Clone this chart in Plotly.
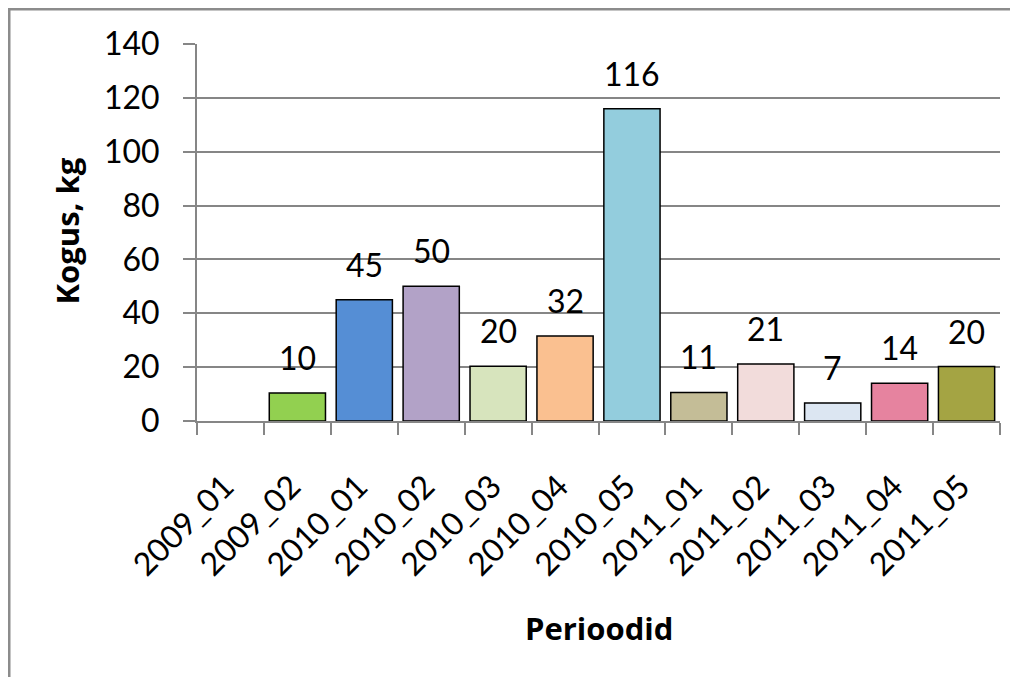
import plotly.graph_objects as go

# andmed (loetud pildilt)
periods = ["2009_01", "2009_02", "2010_01", "2010_02", "2010_03", "2010_04",
           "2010_05", "2011_01", "2011_02", "2011_03", "2011_04", "2011_05"]
amounts = [None, 10.4, 45.0, 50.0, 20.3, 31.6, 116.0, 10.6, 21.2, 6.7, 14.0, 20.2]
labels = ["", "10", "45", "50", "20", "32", "116", "11", "21", "7", "14", "20"]
colors = ["#FFFFFF", "#92D050", "#558ED5", "#B2A2C7", "#D7E4BD", "#FAC090",
          "#93CDDD", "#C4BD97", "#F2DCDB", "#DCE6F2", "#E6839F", "#A4A443"]

FONT = "Lato"
GRID = "#868686"

fig = go.Figure()
fig.add_trace(go.Bar(
    x=periods, y=amounts,
    marker=dict(color=colors, line=dict(color="black", width=1.5)),
))

# andmesildid tulpade kohal
for p, v, t in zip(periods, amounts, labels):
    if v is None:
        continue
    fig.add_annotation(x=p, y=v, text=t, showarrow=False,
                       yanchor="bottom", yshift=14,
                       font=dict(family=FONT, size=32, color="black"))

# lehel on 8px body margin, seega joonis on veidi väiksem
fig.update_layout(
    width=1010, height=669,
    margin=dict(l=189, r=18, t=36, b=256, autoexpand=False),
    paper_bgcolor="white", plot_bgcolor="white",
    bargap=0.16, showlegend=False,
    font=dict(family=FONT, color="black"),
)

fig.update_xaxes(
    type="category", tickangle=-45, tickson="boundaries",
    ticks="outside", ticklen=12, tickcolor=GRID, tickwidth=2,
    showline=True, linecolor=GRID, linewidth=2,
    showgrid=False, automargin=False,
    ticklabelstandoff=32, ticklabelshift=-6,
    tickfont=dict(family=FONT, size=32, color="black"),
)
fig.update_yaxes(
    range=[0, 140], dtick=20,
    ticks="outside", ticklen=12, tickcolor=GRID, tickwidth=2,
    showline=True, linecolor=GRID, linewidth=2,
    showgrid=True, gridcolor=GRID, gridwidth=2, zeroline=False,
    automargin=False, ticklabelstandoff=17,
    tickfont=dict(family=FONT, size=32, color="black"),
)

# telje pealkirjad
fig.add_annotation(text="<b>Kogus, kg</b>", xref="paper", yref="paper",
                   x=0, y=0.5, xshift=-131, yshift=1, xanchor="center", yanchor="middle",
                   textangle=-90, showarrow=False,
                   font=dict(family="Open Sans", size=31, color="black"))
fig.add_annotation(text="<b>Perioodid</b>", xref="paper", yref="paper",
                   x=0.5, y=0, yshift=-207, xanchor="center", yanchor="middle",
                   showarrow=False,
                   font=dict(family="Open Sans", size=31, color="black"))

# diagrammi ümbris
fig.add_shape(type="rect", xref="paper", yref="paper",
              x0=-0.2338, x1=1.05, y0=-0.75, y1=1.0922,
              line=dict(color="#8C8C8C", width=2.5))

fig.write_html("out.html")
